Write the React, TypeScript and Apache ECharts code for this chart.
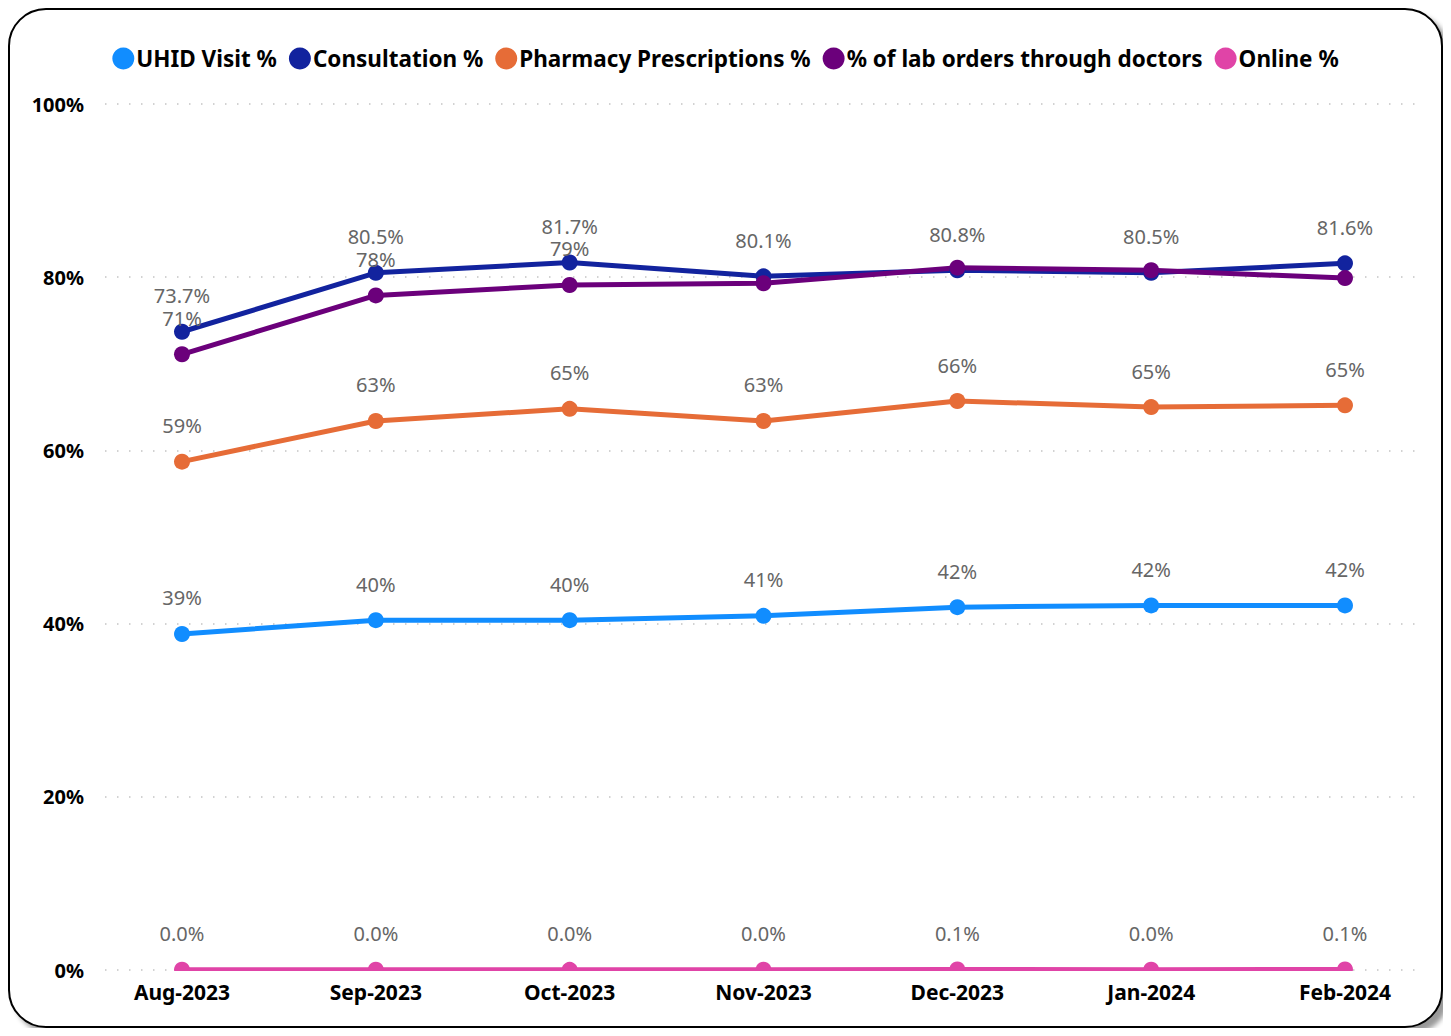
import React, { useEffect, useRef } from "react";
import * as echarts from "echarts";

const categories = ["Aug-2023", "Sep-2023", "Oct-2023", "Nov-2023", "Dec-2023", "Jan-2024", "Feb-2024"];
const uhidVisit = [38.8, 40.4, 40.4, 40.9, 41.9, 42.1, 42.1];
const consultation = [73.7, 80.5, 81.7, 80.1, 80.8, 80.5, 81.6];
const pharmacy = [58.7, 63.4, 64.8, 63.4, 65.7, 65.0, 65.2];
const labOrders = [71.1, 77.9, 79.1, 79.3, 81.1, 80.8, 79.9];
const labLabelShown = [true, true, true, false, false, false, false];
const online = [0.03, 0.04, 0.02, 0.04, 0.06, 0.04, 0.07];
const yTicks = [0, 20, 40, 60, 80, 100];

const FONT = "'Noto Sans', 'Segoe UI', sans-serif";

export default function App() {
  const ref = useRef<HTMLDivElement>(null);
  useEffect(() => {
    if (!ref.current) return;
    const chart = echarts.init(ref.current, undefined, { renderer: "svg" });
    const labelBase = {
      show: true,
      position: "top" as const,
      distance: 18,
      color: "#666666",
      fontSize: 20,
      fontFamily: FONT,
    };
    const mk = (name: string, data: number[], color: string, fmt: (v: number) => string, shown?: boolean[]) => ({
      name,
      type: "line",
      xAxisIndex: 1,
      yAxisIndex: 1,
      data: data.map((v, i) => ({
        value: v,
        label: { show: shown ? shown[i] : true },
      })),
      symbol: "circle",
      symbolSize: 16,
      lineStyle: { width: 5, color },
      itemStyle: { color },
      label: { ...labelBase, formatter: (p: any) => fmt(p.value) },
      emphasis: { disabled: true },
    });
    chart.setOption({
      animation: false,
      textStyle: { fontFamily: FONT },
      legend: {
        top: 32,
        left: "center",
        icon: "circle",
        itemWidth: 22,
        itemHeight: 22,
        itemGap: 12,
        textStyle: { fontSize: 22.5, fontWeight: "bold", color: "#000", fontFamily: FONT, padding: [0, 0, 0, -3] },
        data: ["UHID Visit %", "Consultation %", "Pharmacy Prescriptions %", "% of lab orders through doctors", "Online %"],
      },
      grid: [
        { left: 95, right: 26, top: 94, bottom: 56 },
        { left: 172, right: 96, top: 94, bottom: 56 },
      ],
      xAxis: [
        { type: "value", gridIndex: 0, min: 0, max: 1, show: false },
        {
          type: "category",
          gridIndex: 1,
          data: categories,
          boundaryGap: false,
          axisLine: { show: false },
          axisTick: { show: false },
          axisLabel: { fontSize: 21, fontWeight: "bold", color: "#000", margin: 11, fontFamily: FONT },
        },
      ],
      yAxis: [
        {
          type: "value",
          gridIndex: 0,
          min: yTicks[0],
          max: yTicks[yTicks.length - 1],
          interval: 20,
          axisLine: { show: false },
          axisTick: { show: false },
          axisLabel: { formatter: "{value}%", fontSize: 20, fontWeight: "bold", color: "#000", margin: 21, fontFamily: FONT },
          splitLine: { lineStyle: { type: [1.5, 10.5], color: "#c4c4c4", width: 1.5 } },
        },
        { type: "value", gridIndex: 1, min: 0, max: 100, show: false },
      ],
      series: [
        mk("UHID Visit %", uhidVisit, "#118DFF", (v) => `${Math.round(v)}%`),
        mk("Consultation %", consultation, "#12239E", (v) => `${v.toFixed(1)}%`),
        mk("Pharmacy Prescriptions %", pharmacy, "#E66C37", (v) => `${Math.round(v)}%`),
        mk("% of lab orders through doctors", labOrders, "#6B007B", (v) => `${Math.round(v)}%`, labLabelShown),
        mk("Online %", online, "#E044A7", (v) => `${v.toFixed(1)}%`),
      ],
      graphic: [
        {
          type: "rect",
          z: 100,
          silent: true,
          shape: { x: 150, y: 961, width: 1220, height: 9 },
          style: { fill: "#ffffff" },
        },
      ],
    });
    return () => chart.dispose();
  }, []);
  return (
    <div
      style={{
        width: 1435,
        height: 1020,
        boxSizing: "border-box",
        border: "2px solid #000",
        borderRadius: 38,
        boxShadow: "6px 6px 5px rgba(0,0,0,0.4)",
        background: "#fff",
        overflow: "hidden",
      }}
    >
      <div ref={ref} style={{ width: 1431, height: 1016 }} />
    </div>
  );
}
